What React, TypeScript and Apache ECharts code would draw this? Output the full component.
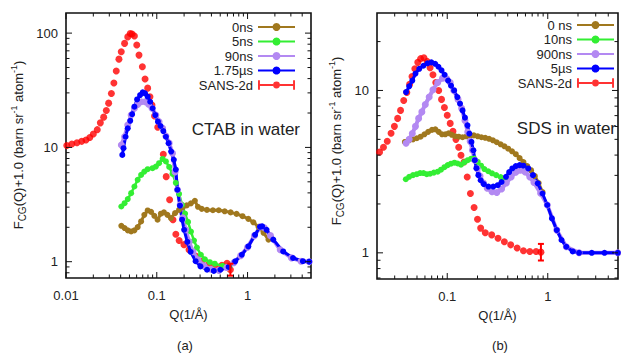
import React, { useEffect, useRef } from 'react';
import * as echarts from 'echarts';

// ---------- Panel (a): CTAB in water ----------
const ctab0ns: number[][] = [
  [0.0407, 2.06], [0.0442, 1.97], [0.0479, 1.88], [0.0522, 1.84], [0.0567, 1.88], [0.0616, 2.01],
  [0.0672, 2.25], [0.0729, 2.57], [0.0794, 2.81], [0.0865, 2.73], [0.094, 2.52], [0.102, 2.33],
  [0.111, 2.63], [0.12, 2.7], [0.131, 2.57], [0.143, 2.41], [0.159, 2.66], [0.176, 2.84],
  [0.194, 2.99], [0.214, 3.11], [0.238, 3.24], [0.263, 3.41], [0.284, 3.02], [0.313, 2.9],
  [0.357, 2.84], [0.415, 2.82], [0.482, 2.82], [0.56, 2.76], [0.651, 2.7], [0.757, 2.62],
  [0.88, 2.5], [1.02, 2.37], [1.16, 2.21], [1.32, 2.02], [1.5, 1.79], [1.7, 1.56],
];
const ctab5ns: number[][] = [
  [0.0407, 3.04], [0.0442, 3.25], [0.0479, 3.53], [0.0522, 3.98], [0.0567, 4.55], [0.0616, 5.2],
  [0.0672, 5.75], [0.0729, 6.14], [0.0794, 6.45], [0.0898, 6.58], [0.0977, 6.8], [0.106, 7.28],
  [0.116, 7.93], [0.126, 7.54], [0.137, 6.75], [0.149, 5.87], [0.162, 4.9], [0.176, 3.92],
  [0.19, 3.15], [0.205, 2.63], [0.221, 2.23], [0.238, 1.83], [0.257, 1.53], [0.277, 1.33],
  [0.306, 1.15], [0.339, 1.05], [0.384, 0.99], [0.435, 0.96], [0.53, 0.92], [0.63, 0.91],
];
const ctab90ns: number[][] = [
  [0.0407, 10.5], [0.0442, 12.4], [0.0479, 15.7], [0.0522, 19.2], [0.0567, 22.0], [0.0616, 23.7],
  [0.0672, 25.1], [0.0743, 25.1], [0.0812, 23.9], [0.0886, 22.0], [0.0977, 19.2], [0.106, 16.8],
  [0.116, 14.7], [0.126, 12.6], [0.137, 10.9], [0.149, 8.9], [0.159, 6.1], [0.169, 4.26],
  [0.181, 3.15], [0.193, 2.42], [0.208, 1.9], [0.227, 1.49], [0.25, 1.22], [0.284, 1.04],
  [0.33, 0.92], [0.394, 0.86], [0.484, 0.84], [0.59, 0.89], [0.706, 0.98], [0.84, 1.13],
  [1.0, 1.34], [1.19, 1.69], [1.39, 2.02], [1.53, 1.98], [1.79, 1.69], [2.29, 1.27],
  [3.05, 1.08], [3.88, 1.01], [4.78, 1.0],
];
const ctab175us: number[][] = [
  [0.0417, 8.6], [0.043, 9.85], [0.0453, 12.4], [0.0479, 14.7], [0.051, 17.1], [0.0535, 19.5],
  [0.0567, 22.7], [0.0607, 26.3], [0.0655, 28.7], [0.07, 30.3], [0.0743, 29.7], [0.0794, 27.8],
  [0.0846, 25.1], [0.0901, 22.0], [0.0963, 19.2], [0.103, 16.8], [0.11, 15.4], [0.118, 13.9],
  [0.126, 12.4], [0.135, 10.9], [0.144, 9.2], [0.154, 7.8], [0.162, 6.4], [0.169, 4.26],
  [0.18, 3.09], [0.19, 2.33], [0.2, 1.9], [0.217, 1.49], [0.236, 1.22], [0.268, 1.01],
  [0.303, 0.91], [0.358, 0.85], [0.425, 0.83], [0.502, 0.85], [0.619, 0.9], [0.73, 1.006],
  [0.865, 1.15], [1.02, 1.36], [1.21, 1.72], [1.37, 2.02], [1.45, 2.04], [1.62, 1.9],
  [1.92, 1.56], [2.47, 1.23], [3.17, 1.077], [4.07, 1.01], [4.78, 1.0],
];
const ctabSans: number[][] = [
  [0.0102, 10.4], [0.0116, 10.7], [0.0132, 11.0], [0.0149, 11.3], [0.0166, 11.6], [0.0183, 12.2],
  [0.02, 13.1], [0.0221, 14.3], [0.0239, 16.4], [0.026, 18.4], [0.0278, 21.0], [0.0295, 24.4],
  [0.0316, 29.6], [0.0337, 36.6], [0.0358, 46.6], [0.0383, 59.2], [0.0406, 68.7], [0.0442, 81.3],
  [0.0479, 92.7], [0.051, 99.3], [0.0535, 98.1], [0.0567, 94.4], [0.0602, 78.6], [0.0637, 64.2],
  [0.0694, 50.8], [0.0743, 39.7], [0.0794, 33.0], [0.0841, 27.8], [0.0885, 23.5], [0.0945, 18.8],
  [0.1025, 15.0], [0.118, 8.7], [0.127, 5.55], [0.1385, 3.48], [0.1508, 2.33], [0.1622, 1.74],
  [0.1763, 1.53], [0.1993, 1.41], [0.2266, 1.27], [0.268, 1.12], [0.3167, 1.01], [0.3741, 0.95],
  [0.4419, 0.91], [0.5224, 0.93], [0.5942, 0.97], [0.647, 0.85],
];
const ctabSansErr: number[][] = [[0.647, 0.755, 0.96]];

// ---------- Panel (b): SDS in water ----------
const sds0ns: number[][] = [
  [0.0379, 4.82], [0.0418, 4.93], [0.0456, 5.0], [0.0498, 5.08], [0.0543, 5.19], [0.0593, 5.37],
  [0.0646, 5.56], [0.0705, 5.72], [0.0761, 5.76], [0.0822, 5.56], [0.0887, 5.37], [0.0957, 5.37],
  [0.103, 5.45], [0.111, 5.33], [0.12, 5.22], [0.13, 5.19], [0.142, 5.15], [0.155, 5.22],
  [0.169, 5.29], [0.184, 5.29], [0.201, 5.22], [0.219, 5.15], [0.239, 5.11], [0.261, 5.04],
  [0.285, 4.93], [0.311, 4.8], [0.34, 4.66], [0.371, 4.53], [0.404, 4.38], [0.441, 4.22],
  [0.481, 4.05], [0.525, 3.83], [0.573, 3.62], [0.625, 3.42], [0.682, 3.23], [0.744, 2.97],
  [0.813, 2.69], [0.887, 2.37],
];
const sds10ns: number[][] = [
  [0.0387, 2.84], [0.0418, 2.94], [0.0456, 3.01], [0.0498, 3.05], [0.0537, 3.1], [0.058, 3.1],
  [0.0625, 3.05], [0.0675, 3.07], [0.0736, 3.12], [0.0804, 3.16], [0.0867, 3.25], [0.0937, 3.37],
  [0.101, 3.47], [0.109, 3.54], [0.118, 3.59], [0.127, 3.55], [0.137, 3.49], [0.148, 3.61],
  [0.16, 3.72], [0.173, 3.8], [0.186, 3.81], [0.201, 3.64], [0.217, 3.44], [0.234, 3.28],
  [0.256, 3.18], [0.279, 3.09], [0.307, 3.01], [0.34, 2.93], [0.371, 2.84],
];
const sds900ns: number[][] = [
  [0.0389, 4.73], [0.0418, 5.0], [0.0449, 5.43], [0.0483, 6.01], [0.0519, 6.73], [0.0559, 7.38],
  [0.0605, 8.2], [0.0661, 9.12], [0.0721, 10.1], [0.0804, 11.2], [0.0897, 11.9], [0.0989, 11.8],
  [0.107, 11.2], [0.116, 10.0], [0.128, 8.81], [0.139, 7.76], [0.15, 6.54], [0.16, 5.55],
  [0.169, 4.86], [0.178, 4.28], [0.188, 3.72], [0.199, 3.3], [0.212, 2.97], [0.229, 2.69],
  [0.25, 2.5], [0.279, 2.38], [0.311, 2.35], [0.347, 2.47], [0.387, 2.69], [0.432, 2.93],
  [0.481, 3.14], [0.533, 3.23], [0.595, 3.15], [0.663, 2.93], [0.729, 2.71], [0.849, 2.33],
  [0.989, 1.97], [1.23, 1.38], [1.53, 1.09], [2.05, 1.0], [4.98, 1.0],
];
const sds5us: number[][] = [
  [0.0389, 9.77], [0.0418, 10.6], [0.0449, 11.5], [0.0483, 12.7], [0.0527, 13.6], [0.0579, 14.2],
  [0.0636, 14.7], [0.0695, 14.9], [0.0758, 14.6], [0.0817, 14.0], [0.0877, 13.3], [0.0942, 12.5],
  [0.102, 11.5], [0.109, 10.7], [0.117, 10.0], [0.126, 9.1], [0.134, 8.29], [0.142, 7.54],
  [0.15, 6.8], [0.159, 6.1], [0.166, 5.42], [0.174, 4.82], [0.182, 4.28], [0.188, 3.72],
  [0.195, 3.32], [0.204, 3.01], [0.215, 2.8], [0.231, 2.65], [0.257, 2.56], [0.287, 2.56],
  [0.318, 2.61], [0.347, 2.73], [0.384, 2.94], [0.413, 3.14], [0.444, 3.31], [0.481, 3.42],
  [0.525, 3.47], [0.573, 3.44], [0.64, 3.31], [0.713, 3.01], [0.795, 2.68], [0.887, 2.32],
  [0.989, 1.97], [1.1, 1.63], [1.23, 1.38], [1.37, 1.2], [1.53, 1.09], [1.77, 1.02],
  [2.05, 1.0], [2.74, 1.0], [3.67, 1.0], [4.98, 1.0],
];
const sdsSans: number[][] = [
  [0.0212, 4.17], [0.0232, 4.47], [0.0253, 4.87], [0.0276, 5.45], [0.0298, 6.01], [0.0321, 6.73],
  [0.0343, 7.54], [0.0369, 8.68], [0.0396, 9.72], [0.0422, 10.9], [0.0446, 12.2], [0.0476, 13.6],
  [0.0509, 14.9], [0.0543, 15.7], [0.0586, 15.9], [0.0632, 15.1], [0.0675, 13.8], [0.0721, 12.5],
  [0.0769, 11.2], [0.0822, 10.0], [0.0877, 8.81], [0.0937, 7.86], [0.1, 7.03], [0.107, 6.27],
  [0.114, 5.6], [0.122, 5.0], [0.13, 4.47], [0.137, 3.99], [0.147, 3.63], [0.158, 2.93],
  [0.17, 2.32], [0.185, 1.9], [0.2, 1.61], [0.215, 1.42], [0.239, 1.33], [0.277, 1.29],
  [0.32, 1.23], [0.37, 1.17], [0.428, 1.12], [0.496, 1.07], [0.573, 1.03], [0.663, 1.02],
  [0.766, 1.02], [0.855, 1.01],
];
const sdsSansErr: number[][] = [[0.855, 0.897, 1.135]];

// ---------- Axes ----------
const xRangeA = [0.01, 5];
const yRangeA = [0.72, 150];
const xRangeB = [0.02, 5];
const yRangeB = [0.69, 30];
const xMajorA = [0.01, 0.1, 1];
const xMinorA = [0.02, 0.03, 0.04, 0.05, 0.06, 0.07, 0.08, 0.09, 0.2, 0.3, 0.4, 0.5, 0.6, 0.7, 0.8, 0.9, 2, 3, 4];
const yMajorA = [1, 10, 100];
const yMinorA = [0.8, 0.9, 2, 3, 4, 5, 6, 7, 8, 9, 20, 30, 40, 50, 60, 70, 80, 90];
const xMajorB = [0.1, 1];
const xMinorB = [0.03, 0.04, 0.05, 0.06, 0.07, 0.08, 0.09, 0.2, 0.3, 0.4, 0.5, 0.6, 0.7, 0.8, 0.9, 2, 3, 4];
const yMajorB = [1, 10];
const yMinorB = [0.7, 0.8, 0.9, 2, 3, 4, 5, 6, 7, 8, 9, 20];

const legendA = ['0ns', '5ns', '90ns', '1.75\u00b5s', 'SANS-2d'];
const legendB = ['0 ns', '10ns', '900ns', '5\u00b5s', 'SANS-2d'];

const COLORS = { brown: '#a0781e', green: '#33ee33', purple: '#b389f2', blue: '#0000ff', red: '#ff0000' };
const FONT = 'Liberation Sans, Arial, sans-serif';
const ERR_ICON = 'path://M0,4H15.6V6H0Z M22.4,4H38V6H22.4Z M0,0H2V10H0Z M36,0H38V10H36Z M15.5,5A3.5,3.5,0,1,0,22.5,5A3.5,3.5,0,1,0,15.5,5Z';

const decadeLabel = (v: number) => {
  const l = Math.log10(v);
  const r = Math.round(l);
  if (Math.abs(l - r) > 1e-6) return '';
  return String(Number(Math.pow(10, r).toFixed(Math.max(0, -r))));
};

const lineSeries = (name: string, data: number[][], color: string, idx: number, lw = 2.5, size = 6) => ({
  type: 'line', name, data, xAxisIndex: idx, yAxisIndex: idx,
  symbol: 'circle', symbolSize: size, showSymbol: true,
  itemStyle: { color }, lineStyle: { color, width: lw }, silent: true,
});

const tickSeries = (idx: number, majorsX: number[], minorsX: number[], majorsY: number[], minorsY: number[], xMin: number, yMin: number) => {
  const xData = [...majorsX.map((v) => [v, yMin, 1]), ...minorsX.map((v) => [v, yMin, 0])];
  const yData = [...majorsY.map((v) => [xMin, v, 1]), ...minorsY.map((v) => [xMin, v, 0])];
  const st = { stroke: '#111', lineWidth: 1 };
  return [
    {
      type: 'custom', xAxisIndex: idx, yAxisIndex: idx, silent: true, clip: false, z: 10, data: xData,
      renderItem: (params: any, api: any) => {
        const cs = params.coordSys;
        const p = api.coord([api.value(0), api.value(1)]);
        const len = api.value(2) ? 6 : 3.5;
        const x = p[0];
        return {
          type: 'group', children: [
            { type: 'line', shape: { x1: x, y1: cs.y + cs.height, x2: x, y2: cs.y + cs.height - len }, style: st },
            { type: 'line', shape: { x1: x, y1: cs.y, x2: x, y2: cs.y + len }, style: st },
          ],
        };
      },
    },
    {
      type: 'custom', xAxisIndex: idx, yAxisIndex: idx, silent: true, clip: false, z: 10, data: yData,
      renderItem: (params: any, api: any) => {
        const cs = params.coordSys;
        const p = api.coord([api.value(0), api.value(1)]);
        const len = api.value(2) ? 6 : 3.5;
        const y = p[1];
        return {
          type: 'group', children: [
            { type: 'line', shape: { x1: cs.x, y1: y, x2: cs.x + len, y2: y }, style: st },
            { type: 'line', shape: { x1: cs.x + cs.width, y1: y, x2: cs.x + cs.width - len, y2: y }, style: st },
          ],
        };
      },
    },
  ];
};

const errSeries = (idx: number, data: number[][]) => ({
  type: 'custom', xAxisIndex: idx, yAxisIndex: idx, silent: true, clip: false, z: 5, data,
  renderItem: (params: any, api: any) => {
    const lo = api.coord([api.value(0), api.value(1)]);
    const hi = api.coord([api.value(0), api.value(2)]);
    const st = { stroke: COLORS.red, lineWidth: 2 };
    return {
      type: 'group', children: [
        { type: 'line', shape: { x1: lo[0], y1: lo[1], x2: hi[0], y2: hi[1] }, style: st },
        { type: 'line', shape: { x1: lo[0] - 3, y1: lo[1], x2: lo[0] + 3, y2: lo[1] }, style: st },
        { type: 'line', shape: { x1: hi[0] - 3, y1: hi[1], x2: hi[0] + 3, y2: hi[1] }, style: st },
      ],
    };
  },
});

const makeX = (idx: number, range: number[]) => ({
  type: 'log', logBase: 10, gridIndex: idx, min: range[0], max: range[1],
  name: 'Q(1/\u00c5)', nameLocation: 'middle', nameGap: 30,
  nameTextStyle: { fontSize: 13, color: '#222', fontFamily: FONT },
  axisLine: { show: false }, axisTick: { show: false }, splitLine: { show: false }, minorTick: { show: false },
  axisLabel: { formatter: decadeLabel, interval: 0, fontSize: 13, color: '#222', margin: 11, fontFamily: FONT, showMinLabel: true, showMaxLabel: true },
});
const makeY = (idx: number, range: number[]) => ({
  type: 'log', logBase: 10, gridIndex: idx, min: range[0], max: range[1],
  axisLine: { show: false }, axisTick: { show: false }, splitLine: { show: false }, minorTick: { show: false },
  axisLabel: { formatter: decadeLabel, interval: 0, fontSize: 13, color: '#222', margin: 8, fontFamily: FONT },
});

const yTitle = (x: number, y: number) => ({
  type: 'text', x, y, rotation: Math.PI / 2,
  style: {
    text: '{n|F}{s|CG}{n|(Q)+1.0 (barn sr}{p|-1}{n| atom}{p|-1}{n|)}',
    align: 'center', verticalAlign: 'middle', fill: '#222', fontFamily: FONT,
    rich: {
      n: { fontSize: 13, lineHeight: 18, fontFamily: FONT, fill: '#222' },
      s: { fontSize: 10, lineHeight: 12, verticalAlign: 'bottom', fontFamily: FONT, fill: '#222' },
      p: { fontSize: 9, lineHeight: 11, verticalAlign: 'top', fontFamily: FONT, fill: '#222' },
    },
  },
});

const makeLegend = (names: string[], right: number, top: number) => ({
  orient: 'vertical', right, top, padding: 0, itemGap: 0.5, itemWidth: 37, itemHeight: 10, align: 'right',
  textStyle: { fontSize: 13, color: '#222', fontFamily: FONT, lineHeight: 14 },
  data: names.map((n) => (n === 'SANS-2d' ? { name: n, icon: ERR_ICON } : { name: n })),
  selectedMode: false,
});

export default function App() {
  const ref = useRef<HTMLDivElement>(null);
  useEffect(() => {
    if (!ref.current) return;
    const chart = echarts.init(ref.current, undefined, { renderer: 'svg' });
    const option: any = {
      animation: false,
      textStyle: { fontFamily: FONT },
      grid: [
        { left: 66, top: 13, width: 245, height: 265, show: true, borderColor: '#111', borderWidth: 1.6, backgroundColor: 'transparent' },
        { left: 377, top: 13, width: 252, height: 266, show: true, borderColor: '#111', borderWidth: 1.6, backgroundColor: 'transparent' },
      ],
      xAxis: [makeX(0, xRangeA), makeX(1, xRangeB)],
      yAxis: [makeY(0, yRangeA), makeY(1, yRangeB)],
      legend: [makeLegend(legendA, 325, 20), makeLegend(legendB, 6, 18)],
      series: [
        lineSeries(legendA[0], ctab0ns, COLORS.brown, 0, 3),
        lineSeries(legendA[1], ctab5ns, COLORS.green, 0),
        lineSeries(legendA[2], ctab90ns, COLORS.purple, 0, 4, 7),
        lineSeries(legendA[3], ctab175us, COLORS.blue, 0, 3),
        { type: 'scatter', name: 'SANS-2d', data: ctabSans, xAxisIndex: 0, yAxisIndex: 0, symbolSize: 7, itemStyle: { color: COLORS.red }, silent: true },
        errSeries(0, ctabSansErr),
        lineSeries(legendB[0], sds0ns, COLORS.brown, 1, 3),
        lineSeries(legendB[1], sds10ns, COLORS.green, 1),
        lineSeries(legendB[2], sds900ns, COLORS.purple, 1, 4, 7),
        lineSeries(legendB[3], sds5us, COLORS.blue, 1, 3),
        { type: 'scatter', name: 'SANS-2d', data: sdsSans, xAxisIndex: 1, yAxisIndex: 1, symbolSize: 7, itemStyle: { color: COLORS.red }, silent: true },
        errSeries(1, sdsSansErr),
        ...tickSeries(0, xMajorA, xMinorA, yMajorA, yMinorA, xRangeA[0], yRangeA[0]),
        ...tickSeries(1, xMajorB, xMinorB, yMajorB, yMinorB, xRangeB[0], yRangeB[0]),
      ],
      graphic: [
        yTitle(18, 145),
        yTitle(336, 141),
        { type: 'text', x: 300, y: 129, style: { text: 'CTAB in water', fontSize: 17, fill: '#222', fontFamily: FONT, align: 'right', verticalAlign: 'middle' } },
        { type: 'text', x: 616, y: 128, style: { text: 'SDS in water', fontSize: 17, fill: '#222', fontFamily: FONT, align: 'right', verticalAlign: 'middle' } },
        { type: 'text', x: 185, y: 345, style: { text: '(a)', fontSize: 13, fill: '#222', fontFamily: FONT, align: 'center', verticalAlign: 'middle' } },
        { type: 'text', x: 500, y: 345, style: { text: '(b)', fontSize: 13, fill: '#222', fontFamily: FONT, align: 'center', verticalAlign: 'middle' } },
      ],
    };
    chart.setOption(option);
    return () => chart.dispose();
  }, []);
  return (
    <div style={{ position: 'fixed', left: 0, top: 0, width: 621, height: 354, background: '#fff', overflow: 'hidden' }}>
      <div ref={ref} style={{ width: 621, height: 354 }} />
    </div>
  );
}
